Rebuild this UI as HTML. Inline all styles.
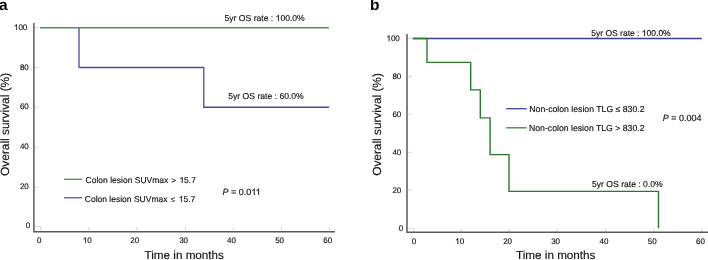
<!DOCTYPE html>
<html><head><meta charset="utf-8"><style>
html,body{margin:0;padding:0;background:#fff;}
body{width:708px;height:260px;overflow:hidden;}
svg{display:block;will-change:transform;}
text{font-family:"Liberation Sans",sans-serif;fill:#111;stroke:#111;stroke-width:0.15px;text-rendering:geometricPrecision;}
.t8{font-size:8px;}
.t85{font-size:8.5px;}
.t86{font-size:8.6px;}
.t87{font-size:8.7px;}
.t12{font-size:12px;}
.t117{font-size:11.7px;}
.t9{font-size:9px;}
.pl{font-size:15.5px;font-weight:bold;fill:#000;stroke:none;}
.ax{stroke:#5a5a5a;stroke-width:1.5;fill:none;}
.tk{stroke:#d6d6d6;stroke-width:1;fill:none;}
.gr{stroke:#4a9150;stroke-width:1.5;fill:none;}
.bl{stroke:#4a47a3;stroke-width:1.5;fill:none;}
.lg{stroke-width:1.2;}
.gr2{stroke:#2a7a2e;stroke-width:1.4;fill:none;}
.bl2{stroke:#3f3f97;stroke-width:1.4;fill:none;}
.h1{fill:none;stroke:none;}
.one{fill:#111;stroke:#111;stroke-width:0.15px;}
</style></head><body>
<svg width="708" height="260" viewBox="0 0 708 260">
<defs><path id="o1" vector-effect="non-scaling-stroke" d="M763 0H583V1147C535 1101 471 1055 392 1009C313 963 242 928 180 905V1079C292 1132 390 1196 474 1271C558 1346 617 1419 652 1466H763Z"/></defs>
<!-- ===== Panel a ===== -->
<text class="pl" x="-0.9" y="9.8">a</text>
<!-- ticks -->
<path class="tk" d="M35 27.5H39M35 67.4H39M35 107.3H39M35 147.2H39M35 187.1H39M35 226.6H40.6V230.6M88.6 227V230.6M136.4 227V230.6M185.6 227V230.6M233.3 227V230.6M281.4 227V230.6M329.5 227V230.6"/>
<!-- axes -->
<path class="ax" d="M33.9 23.1V231.7H335"/>
<!-- y labels -->
<g class="t8" text-anchor="end">
<text x="27.3" y="29.7"><tspan class="h1">1</tspan>00</text>
<text x="28.8" y="69.8">80</text>
<text x="28.8" y="109.2">60</text>
<text x="28.8" y="149.2">40</text>
<text x="28.8" y="188.8">20</text>
<text x="30.3" y="228.4">0</text>
</g>
<!-- x labels -->
<g class="t8" text-anchor="middle">
<text x="39.2" y="242.7">0</text>
<text x="87.3" y="242.7"><tspan class="h1">1</tspan>0</text>
<text x="134.8" y="242.7">20</text>
<text x="183.6" y="242.7">30</text>
<text x="231.4" y="242.7">40</text>
<text x="279.6" y="242.7">50</text>
<text x="327.8" y="242.7">60</text>
</g>
<text class="t117" x="144.5" y="259.1">Time in months</text>
<text class="t12" style="font-size:11.9px" transform="translate(9.1 124.4) rotate(-90)" text-anchor="middle">Overall survival (%)</text>
<!-- curves -->
<path class="bl" d="M79.4 67.4H203.5M203.7 107.2H329"/>
<path class="bl" style="stroke-width:1.3px" d="M79 27.7V68.1M203.8 66.7V107.9"/>
<path class="gr" d="M40 27.7H329"/>
<!-- annotations -->
<text class="t86" x="224.5" y="20.7">5yr OS rate : <tspan class="h1">1</tspan>00.0%</text>
<text class="t86" x="228.3" y="99">5yr OS rate : 60.0%</text>
<path class="gr lg" style="stroke:#3d8a40" d="M63.9 179.3H82"/>
<path class="bl lg" d="M63.9 197.8H82.2"/>
<text class="t85" x="85.6" y="182.6">Colon lesion SUVmax <tspan font-size="7.8" dx="0.9">&gt;</tspan><tspan dx="0.9"> <tspan class="h1">1</tspan>5.7</tspan></text>
<text class="t85" x="84.8" y="201.6">Colon lesion SUVmax <tspan font-size="7.8" dx="1" dy="0.6" fill="#333" stroke="#333">≤</tspan><tspan dx="1.3" dy="-0.6"> <tspan class="h1">1</tspan>5.7</tspan></text>
<text class="t9" x="222.5" y="194.6"><tspan font-style="italic">P</tspan> = 0.0<tspan class="h1">1</tspan><tspan class="h1">1</tspan></text>

<!-- ===== Panel b ===== -->
<text class="pl" x="369.9" y="10.25">b</text>
<path class="tk" d="M408 38.3H412M408 76.3H412M408 114.3H412M408 152.3H412M408 190.3H412M408 228.3H413.8V231.6M461 228.3V231.6M509.1 228.3V231.6M557.3 228.3V231.6M605.4 228.3V231.6M653.8 228.3V231.6M702.2 228.3V231.6"/>
<path class="ax" d="M407 34V232.3H708"/>
<g class="t8" text-anchor="end">
<text x="399.8" y="40.6"><tspan class="h1">1</tspan>00</text>
<text x="401.3" y="79">80</text>
<text x="401.3" y="117">60</text>
<text x="401.3" y="155">40</text>
<text x="401.3" y="193">20</text>
<text x="403.2" y="230.6">0</text>
</g>
<g class="t8" text-anchor="middle">
<text x="413.9" y="243.8">0</text>
<text x="459.7" y="243.8"><tspan class="h1">1</tspan>0</text>
<text x="507.6" y="243.8">20</text>
<text x="555.6" y="243.8">30</text>
<text x="604" y="243.8">40</text>
<text x="652.3" y="243.8">50</text>
<text x="700.4" y="243.8">60</text>
</g>
<text class="t117" x="516" y="259.1">Time in months</text>
<text class="t12" style="font-size:11.85px" transform="translate(381 124.5) rotate(-90)" text-anchor="middle">Overall survival (%)</text>
<path class="bl2" d="M412.8 38.5H701.8"/>
<path class="gr2" d="M412.8 38.5H427V62.4H470.7V89.85H480.3V117.9H490.1V154.6H509V191.4H658.5V228.2"/>
<text class="t85" x="591.3" y="35.6">5yr OS rate : <tspan class="h1">1</tspan>00.0%</text>
<text class="t86" x="592" y="187">5yr OS rate : 0.0%</text>
<path class="bl lg" style="stroke:#4343a0;stroke-width:1.3px" d="M506.1 108.7H526.7"/>
<path class="gr lg" style="stroke:#3a853a;stroke-width:1.3px" d="M506.1 127.8H526.7"/>
<text class="t87" x="529.3" y="112.1">Non-colon lesion TLG ≤ 830.2</text>
<text class="t87" x="529" y="130.7">Non-colon lesion TLG &gt; 830.2</text>
<text class="t9" x="662.8" y="121.1"><tspan font-style="italic">P</tspan> = 0.004</text>
<g><use href="#o1" class="one" transform="translate(13.94 30) scale(0.003906 -0.003906)"/><use href="#o1" class="one" transform="translate(82.85 243) scale(0.003906 -0.003906)"/><use href="#o1" class="one" transform="translate(275.61 21) scale(0.004199 -0.004199)"/><use href="#o1" class="one" transform="translate(179.38 183) scale(0.004150 -0.004150)"/><use href="#o1" class="one" transform="translate(178.80 202) scale(0.004150 -0.004150)"/><use href="#o1" class="one" transform="translate(251.30 195) scale(0.004395 -0.004395)"/><use href="#o1" class="one" transform="translate(255.64 195) scale(0.004395 -0.004395)"/><use href="#o1" class="one" transform="translate(386.44 41) scale(0.003906 -0.003906)"/><use href="#o1" class="one" transform="translate(455.25 244) scale(0.003906 -0.003906)"/><use href="#o1" class="one" transform="translate(641.85 36) scale(0.004150 -0.004150)"/></g>
</svg>
</body></html>
